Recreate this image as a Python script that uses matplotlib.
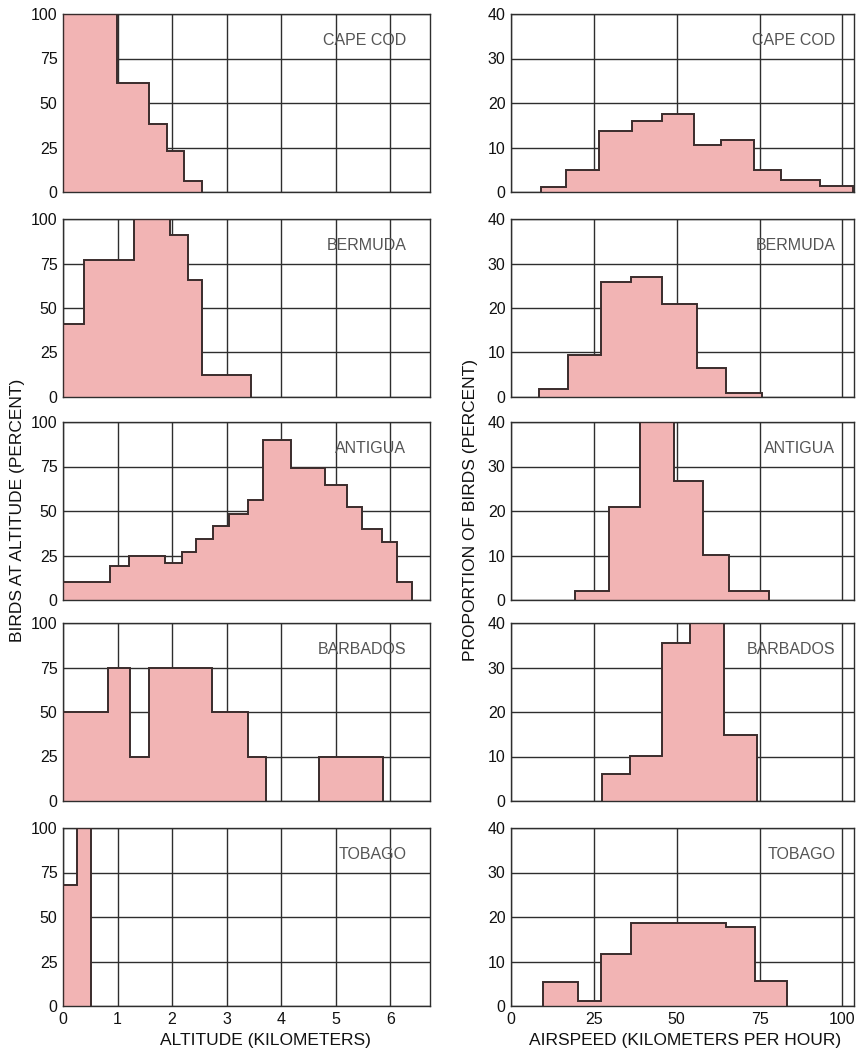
import matplotlib
matplotlib.use("Agg")
import matplotlib.pyplot as plt

plt.rcParams['font.family'] = ['Liberation Sans', 'DejaVu Sans']

# ---------------- data ----------------
sites = ["CAPE COD", "BERMUDA", "ANTIGUA", "BARBADOS", "TOBAGO"]

# Altitude distributions (bin edges in km, percent of birds at altitude)
alt_edges_capecod = [0, 0.99, 1.58, 1.91, 2.22, 2.55]
alt_capecod = [100, 61, 38, 23, 6]
alt_edges_bermuda = [0, 0.39, 1.30, 1.96, 2.29, 2.55, 3.45]
alt_bermuda = [41, 77, 100, 91, 66, 12.5]
alt_edges_antigua = [0, 0.86, 1.21, 1.87, 2.18, 2.44, 2.75, 3.05, 3.39, 3.67,
                     4.18, 4.81, 5.21, 5.49, 5.85, 6.13, 6.40]
alt_antigua = [10, 19, 25, 21, 27, 34, 41.5, 48.5, 56, 90, 74, 64.5, 52.5, 40, 32.5, 10]
alt_edges_barbados = [0, 0.83, 1.23, 1.58, 2.73, 3.39, 3.72, 4.70, 5.87]
alt_barbados = [50, 75, 25, 75, 50, 25, 0, 25]
alt_edges_tobago = [0, 0.26, 0.51]
alt_tobago = [68, 100]

# Airspeed distributions (bin edges in km/h, proportion of birds in percent)
spd_edges_capecod = [9.0, 16.6, 26.7, 36.6, 45.7, 55.2, 63.5, 73.3, 81.4, 93.1, 103.2]
spd_capecod = [1.1, 5.0, 13.8, 16.0, 17.5, 10.6, 11.7, 5.0, 2.75, 1.3]
spd_edges_bermuda = [8.3, 17.1, 27.2, 36.3, 45.6, 56.2, 64.8, 75.7]
spd_bermuda = [1.9, 9.5, 25.9, 26.9, 20.8, 6.6, 1.0]
spd_edges_antigua = [19.3, 29.7, 39.0, 49.1, 57.8, 65.8, 77.9]
spd_antigua = [2.0, 20.8, 40, 26.7, 10.2, 2.0]
spd_edges_barbados = [27.5, 35.8, 45.6, 54.1, 64.2, 74.3]
spd_barbados = [6.1, 10.1, 35.4, 40, 14.9]
spd_edges_tobago = [9.8, 20.1, 27.2, 36.3, 64.8, 73.6, 83.2]
spd_tobago = [5.3, 1.05, 11.7, 18.6, 17.7, 5.6]

alt_ticks = [0, 1, 2, 3, 4, 5, 6]
alt_yticks = [0, 25, 50, 75, 100]
spd_ticks = [0, 25, 50, 75, 100]
spd_yticks = [0, 10, 20, 30, 40]

alt_data = [(alt_edges_capecod, alt_capecod), (alt_edges_bermuda, alt_bermuda),
            (alt_edges_antigua, alt_antigua), (alt_edges_barbados, alt_barbados),
            (alt_edges_tobago, alt_tobago)]
spd_data = [(spd_edges_capecod, spd_capecod), (spd_edges_bermuda, spd_bermuda),
            (spd_edges_antigua, spd_antigua), (spd_edges_barbados, spd_barbados),
            (spd_edges_tobago, spd_tobago)]

# ---------------- style ----------------
FILL = '#F2B4B4'
EDGE = '#3a2c2c'
GRID = '#2e2e2e'
LABEL = '#555555'

W, H = 858, 1050
fig = plt.figure(figsize=(W / 100, H / 100), dpi=100)


def px_axes(x0, x1, top, height):
    return fig.add_axes([x0 / W, 1 - (top + height) / H, (x1 - x0) / W, height / H])


def style(ax, xticks, yticks, show_x):
    ax.set_axisbelow(True)
    ax.grid(True, color=GRID, linewidth=1.0)
    ax.set_xticks(xticks)
    ax.set_yticks(yticks)
    ax.tick_params(length=0, labelsize=11.5, colors='#111111', pad=4)
    if not show_x:
        ax.set_xticklabels([])
    for s in ax.spines.values():
        s.set_color(GRID)
        s.set_linewidth(1.0)


def draw_hist(ax, edges, values):
    ax.stairs(values, edges, fill=True, color=FILL, zorder=2, linewidth=0)
    # outline each contiguous run of non-zero bins separately
    start = None
    for j in range(len(values) + 1):
        nonzero = j < len(values) and values[j] > 0
        if nonzero and start is None:
            start = j
        elif not nonzero and start is not None:
            ax.stairs(values[start:j], edges[start:j + 1], baseline=0,
                      color=EDGE, linewidth=1.4, zorder=3)
            start = None


row_top = [14, 219, 422, 623, 828]
row_h = 178

for i, site in enumerate(sites):
    # altitude panel
    ax = px_axes(63, 430, row_top[i], row_h)
    e, v = alt_data[i]
    draw_hist(ax, e, v)
    ax.set_xlim(0, 6.73)
    ax.set_ylim(0, 100)
    style(ax, alt_ticks, alt_yticks, i == 4)
    ax.text(0.935, 0.85, site, transform=ax.transAxes, ha='right', va='center',
            fontsize=11.5, color=LABEL, zorder=5)

    # airspeed panel
    ax2 = px_axes(511, 854, row_top[i], row_h)
    e, v = spd_data[i]
    draw_hist(ax2, e, v)
    ax2.set_xlim(0, 103.5)
    ax2.set_ylim(0, 40)
    style(ax2, spd_ticks, spd_yticks, i == 4)
    ax2.text(0.945, 0.85, site, transform=ax2.transAxes, ha='right', va='center',
             fontsize=11.5, color=LABEL, zorder=5)

fig.text(265 / W, 1 - 1041 / H, "ALTITUDE (KILOMETERS)", ha='center', va='center',
         fontsize=12.5, color='#111111')
fig.text(685 / W, 1 - 1041 / H, "AIRSPEED (KILOMETERS PER HOUR)", ha='center', va='center',
         fontsize=12.5, color='#111111')
fig.text(18 / W, 1 - 510 / H, "BIRDS AT ALTITUDE (PERCENT)", rotation=90, ha='center',
         va='center', fontsize=12.5, color='#111111')
fig.text(471 / W, 1 - 510 / H, "PROPORTION OF BIRDS (PERCENT)", rotation=90, ha='center',
         va='center', fontsize=12.5, color='#111111')

fig.savefig("out.png", dpi=100)
